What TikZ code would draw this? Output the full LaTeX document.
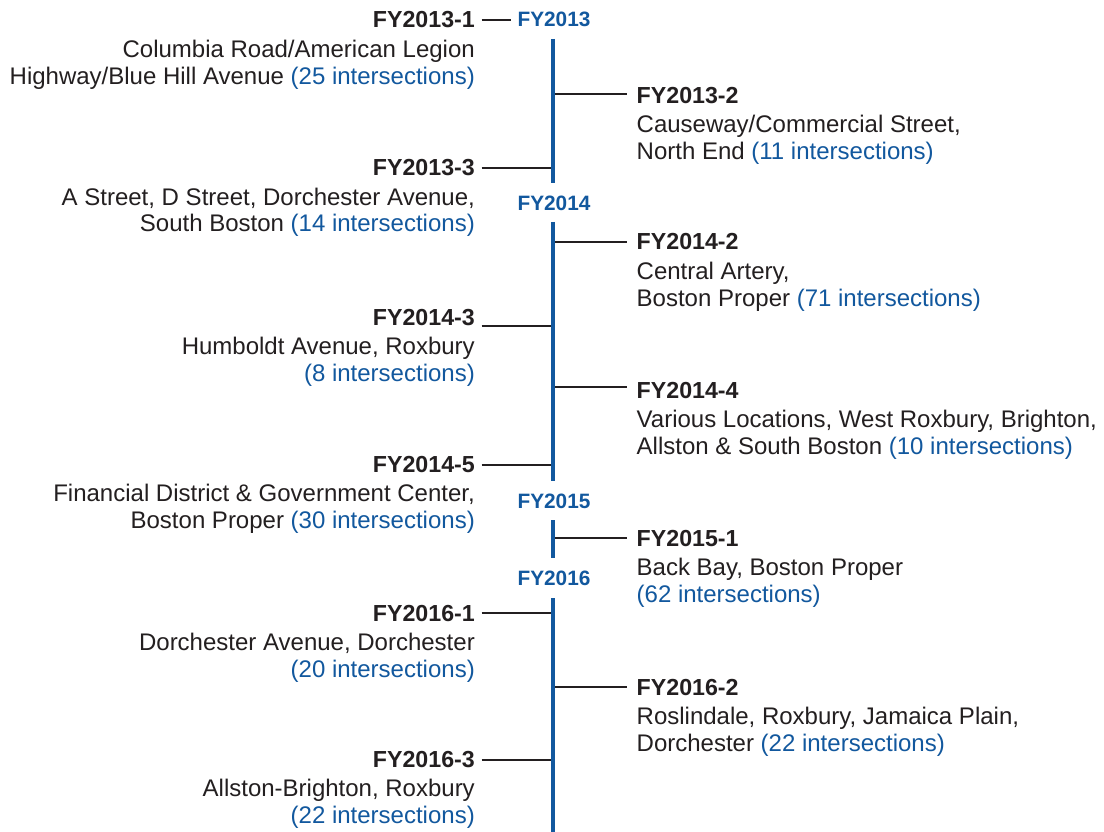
\documentclass[tikz,border=0pt]{standalone}
\usepackage{fontspec}
\setmainfont{Liberation Sans}
\definecolor{tblue}{RGB}{18,88,158}
\definecolor{dark}{RGB}{35,31,32}
\newcommand\bl[1]{\textcolor{tblue}{#1}}
\tikzset{
  ttl/.style={font=\bfseries\fontsize{23.2}{27}\selectfont, text=dark, inner sep=0pt},
  dsc/.style={font=\fontsize{24}{27}\selectfont, text=dark, inner sep=0pt},
  yr/.style={font=\bfseries\fontsize{20.8}{24}\selectfont, text=tblue, inner sep=0pt},
  conn/.style={draw=dark, line width=2pt},
  spine/.style={draw=tblue, line width=4.3pt},
}
% left entry: name, connector y, title baseline, title, line 2, line 3
\newcommand\tlleft[6]{%
  \node[ttl, anchor=base east] (#1) at (475,#3) {#4};
  \node[dsc, anchor=base east] (#1a) at (475,#3+29) {#5};
  \node[dsc, anchor=base east] (#1b) at (475,#3+56) {#6};
  \coordinate (#1c) at (553,#2);
  \draw[conn] ([xshift=6.5pt]#1.east |- #1c) -- (#1c);
}
\newcommand\tlright[6]{%
  \node[ttl, anchor=base west] (#1) at (636.5,#3) {#4};
  \node[dsc, anchor=base west] (#1a) at (636.5,#3+29) {#5};
  \node[dsc, anchor=base west] (#1b) at (636.5,#3+56) {#6};
  \coordinate (#1c) at (553,#2);
  \draw[conn] (#1c) -- ([xshift=-9.5pt]#1.west |- #1c);
}
\begin{document}
\begin{tikzpicture}[x=1pt,y=-1pt]
\useasboundingbox[fill=white] (0,0) rectangle (1104,832);

% year labels
\node[yr, anchor=base] (y13) at (554,26.7) {FY2013};
\node[yr, anchor=base] (y14) at (554,210.7) {FY2014};
\node[yr, anchor=base] (y15) at (554,508.3) {FY2015};
\node[yr, anchor=base] (y16) at (554,585) {FY2016};

% FY2013-1 (connector to year label)
\node[ttl, anchor=base east] (t131) at (475,28) {FY2013-1};
\node[dsc, anchor=base east] (t131a) at (475,58) {Columbia Road/American Legion};
\node[dsc, anchor=base east] (t131b) at (475,84.5) {Highway/Blue Hill Avenue \bl{(25 intersections)}};
\coordinate (k131) at (511,20);
\draw[conn] ([xshift=6.5pt]t131.east |- k131) -- (k131);

\tlright{t132}{94}{103.3}{FY2013-2}{Causeway/Commercial Street,}{North End \bl{(11 intersections)}}
\tlleft{t133}{168}{176}{FY2013-3}{A Street, D Street, Dorchester Avenue,}{South Boston \bl{(14 intersections)}}
\tlright{t142}{241.7}{250}{FY2014-2}{Central Artery,}{Boston Proper \bl{(71 intersections)}}
\tlleft{t143}{325.5}{325}{FY2014-3}{Humboldt Avenue, Roxbury}{\bl{(8 intersections)}}
\tlright{t144}{387.3}{398.3}{FY2014-4}{Various Locations, West Roxbury, Brighton,}{Allston \& South Boston \bl{(10 intersections)}}
\tlleft{t145}{464.5}{472.7}{FY2014-5}{Financial District \& Government Center,}{Boston Proper \bl{(30 intersections)}}
\tlright{t151}{538.3}{546.7}{FY2015-1}{Back Bay, Boston Proper}{\bl{(62 intersections)}}
\tlleft{t161}{613.3}{621}{FY2016-1}{Dorchester Avenue, Dorchester}{\bl{(20 intersections)}}
\tlright{t162}{686.7}{695}{FY2016-2}{Roslindale, Roxbury, Jamaica Plain,}{Dorchester \bl{(22 intersections)}}
\tlleft{t163}{760}{767.3}{FY2016-3}{Allston-Brighton, Roxbury}{\bl{(22 intersections)}}

% timeline spine segments
\coordinate (s1a) at (553,39);  \coordinate (s1b) at (553,183);
\coordinate (s2a) at (553,222); \coordinate (s2b) at (553,481);
\coordinate (s3a) at (553,520); \coordinate (s3b) at (553,558);
\coordinate (s4a) at (553,598); \coordinate (s4b) at (553,832);
\draw[spine] (s1a) -- (s1b);
\draw[spine] (s2a) -- (s2b);
\draw[spine] (s3a) -- (s3b);
\draw[spine] (s4a) -- (s4b);
\end{tikzpicture}
\end{document}
